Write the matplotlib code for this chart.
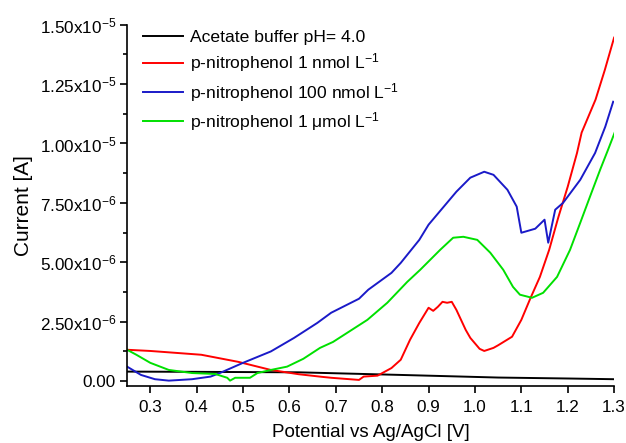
import matplotlib

matplotlib.use("Agg")
import matplotlib.pyplot as plt
from matplotlib.ticker import FuncFormatter, MultipleLocator

plt.rcParams["font.family"] = ["Liberation Sans", "DejaVu Sans"]
plt.rcParams["mathtext.fontset"] = "custom"
plt.rcParams["mathtext.rm"] = "Liberation Sans"
plt.rcParams["mathtext.it"] = "Liberation Sans:italic"

# currents in units of 1e-6 A, potentials in V
buffer_x = [0.25, 0.40, 0.62, 0.84, 1.05, 1.20, 1.30]
buffer_y = [0.39, 0.38, 0.36, 0.25, 0.14, 0.10, 0.07]

nmol1_x = [0.25, 0.30, 0.41, 0.49, 0.56, 0.62, 0.67, 0.69, 0.75, 0.76, 0.79,
           0.82, 0.84, 0.86, 0.88, 0.90, 0.91, 0.92, 0.93, 0.94, 0.95, 0.96,
           0.98, 0.99, 1.01, 1.02, 1.04, 1.05, 1.08, 1.10, 1.12, 1.14, 1.16,
           1.18, 1.20, 1.22, 1.23, 1.26, 1.28, 1.30]
nmol1_y = [1.31, 1.26, 1.10, 0.80, 0.46, 0.28, 0.17, 0.13, 0.04, 0.18, 0.22,
           0.54, 0.89, 1.73, 2.44, 3.08, 2.95, 3.12, 3.33, 3.29, 3.33, 2.99,
           2.15, 1.81, 1.35, 1.26, 1.39, 1.50, 1.86, 2.57, 3.50, 4.38, 5.52,
           6.91, 8.18, 9.60, 10.46, 11.85, 13.10, 14.46]

nmol100_x = [0.25, 0.28, 0.31, 0.34, 0.39, 0.43, 0.45, 0.50, 0.56, 0.61,
             0.66, 0.69, 0.75, 0.77, 0.82, 0.84, 0.88, 0.90, 0.96, 0.99,
             1.02, 1.04, 1.07, 1.09, 1.10, 1.13, 1.15, 1.158, 1.173, 1.19,
             1.227, 1.259, 1.281, 1.298]
nmol100_y = [0.60, 0.25, 0.07, 0.01, 0.07, 0.18, 0.33, 0.76, 1.24, 1.81,
             2.44, 2.87, 3.46, 3.84, 4.55, 4.97, 5.94, 6.58, 7.97, 8.56,
             8.81, 8.68, 8.05, 7.34, 6.24, 6.41, 6.79, 5.82, 7.21, 7.50,
             8.47, 9.60, 10.71, 11.76]

umol1_x = [0.25, 0.27, 0.30, 0.34, 0.39, 0.44, 0.466, 0.472, 0.483, 0.515,
           0.531, 0.56, 0.595, 0.63, 0.666, 0.694, 0.768, 0.811, 0.854,
           0.882, 0.925, 0.953, 0.975, 1.005, 1.033, 1.061, 1.082, 1.097,
           1.123, 1.147, 1.177, 1.205, 1.227, 1.248, 1.27, 1.287, 1.302]
umol1_y = [1.31, 1.10, 0.76, 0.46, 0.33, 0.29, 0.13, 0.01, 0.13, 0.13,
           0.33, 0.46, 0.60, 0.93, 1.39, 1.64, 2.57, 3.29, 4.17,
           4.68, 5.52, 6.03, 6.07, 5.94, 5.40, 4.68, 3.96, 3.63,
           3.50, 3.71, 4.38, 5.52, 6.66, 7.76, 8.90, 9.74, 10.50]

labels = ["Acetate buffer pH= 4.0",
          "p-nitrophenol 1 nmol L$^{-1}$",
          "p-nitrophenol 100 nmol L$^{-1}$",
          "p-nitrophenol 1 \u03bcmol L$^{-1}$"]
colors = ["#000000", "#ff0000", "#1a1ac8", "#00e000"]


def yfmt(v, pos):
    if abs(v) < 1e-12:
        return "0.00"
    exp = -5 if abs(v) >= 1e-5 - 1e-12 else -6
    return "%.2fx10$^{%d}$" % (v / 10 ** exp, exp)


fig = plt.figure(figsize=(6.26, 4.43), dpi=100)
ax = fig.add_axes([0.203, 0.129, 0.778, 0.815])

series = [(buffer_x, buffer_y), (nmol1_x, nmol1_y),
          (nmol100_x, nmol100_y), (umol1_x, umol1_y)]
for (xs, ys), lab, c in zip(series, labels, colors):
    ax.plot(xs, [v * 1e-6 for v in ys], color=c, lw=1.4, label=lab)

ax.set_xlim(0.25, 1.3)
ax.set_ylim(-2.1e-7, 1.5e-5)
ax.xaxis.set_major_locator(MultipleLocator(0.1))
ax.xaxis.set_major_formatter(FuncFormatter(lambda v, p: "%.1f" % v))
ax.yaxis.set_major_locator(MultipleLocator(2.5e-6))
ax.yaxis.set_minor_locator(MultipleLocator(1.25e-6))
ax.yaxis.set_major_formatter(FuncFormatter(yfmt))
ax.tick_params(axis="both", which="major", direction="out", length=5,
               width=1.2, labelsize=12.3, pad=3)
ax.tick_params(axis="x", which="major", pad=5)
ax.tick_params(axis="y", which="minor", direction="out", length=3, width=1.2)
ax.spines["top"].set_visible(False)
ax.spines["right"].set_visible(False)
ax.spines["left"].set_linewidth(1.2)
ax.spines["bottom"].set_linewidth(1.2)

ax.set_xlabel("Potential vs Ag/AgCl [V]", fontsize=13.5, labelpad=7)
ax.set_ylabel("Current [A]", fontsize=15, labelpad=5)

ax.legend(loc="upper left", frameon=False, fontsize=12.6,
          handlelength=2.3, handletextpad=0.35, labelspacing=0.35,
          borderpad=0, borderaxespad=0, bbox_to_anchor=(0.033, 0.985))

fig.savefig("out.png", dpi=100)
